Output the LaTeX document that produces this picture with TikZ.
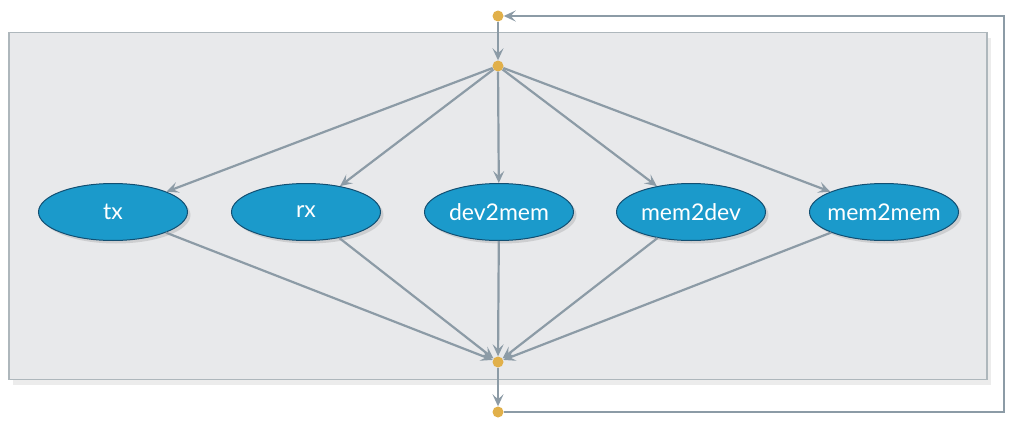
\documentclass[tikz,border=0pt]{standalone}
\usepackage{fontspec}
\setmainfont{Lato}
\usetikzlibrary{arrows.meta,shadows,calc,shapes.geometric}
\definecolor{linegray}{HTML}{8C9BA6}
\definecolor{boxfill}{HTML}{E8E9EB}
\definecolor{boxline}{HTML}{AEB7BC}
\definecolor{ellfill}{HTML}{1B9ACB}
\definecolor{elldraw}{HTML}{124F72}
\definecolor{dotcol}{HTML}{E1B04A}
\tikzset{
  task/.style={ellipse, draw=elldraw, line width=1pt, fill=ellfill,
    minimum width=149pt, minimum height=57pt, inner sep=0pt,
    text width=90pt, align=center,
    text=white, font=\fontsize{23}{26}\selectfont,
    drop shadow={opacity=0.25, shadow xshift=3pt, shadow yshift=-3pt}},
  junction/.style={circle, fill=dotcol, minimum size=11pt, inner sep=0pt},
  conn/.style={draw=linegray, line width=2.2pt,
    -{Stealth[length=12pt,width=11pt,inset=5pt]}},
}
\begin{document}
\begin{tikzpicture}[x=1pt,y=-1pt]
\useasboundingbox (0,0) rectangle (1018,431);
\fill[white] (0,0) rectangle (1018,431);
% container box
\node[draw=boxline, line width=1.2pt, fill=boxfill, minimum width=978pt, minimum height=347pt,
  inner sep=0pt, drop shadow={opacity=0.15, shadow xshift=4pt, shadow yshift=-5pt}]
  (box) at (498,206) {};
% junctions
\node[junction] (jin) at (498,16) {};
\node[junction] (jtop) at (498,66) {};
\node[junction] (jbot) at (498,362) {};
\node[junction] (jout) at (498,412) {};
% tasks
\node[task] (tx) at (113,212) {\makebox[90pt]{tx}};
\node[task] (rx) at (306,212) {\makebox[90pt]{rx}};
\node[task] (d2m) at (499,212) {\makebox[90pt]{dev2mem}};
\node[task] (m2d) at (691,212) {\makebox[90pt]{mem2dev}};
\node[task] (m2m) at (884,212) {\makebox[90pt]{mem2mem}};
% coordinates for feedback
\coordinate (fbr) at (1004,412);
\coordinate (fbt) at (1004,16);
% connectors
\draw[conn] (jin) -- (jtop);
\foreach \t in {tx,rx,d2m,m2d,m2m}{
  \draw[conn] (jtop) -- (\t);
  \draw[conn] (\t) -- (jbot);
}
\draw[conn] (jbot) -- (jout);
\draw[conn] (jout) -- (fbr) -- (fbt) -- (jin);
\end{tikzpicture}
\end{document}
